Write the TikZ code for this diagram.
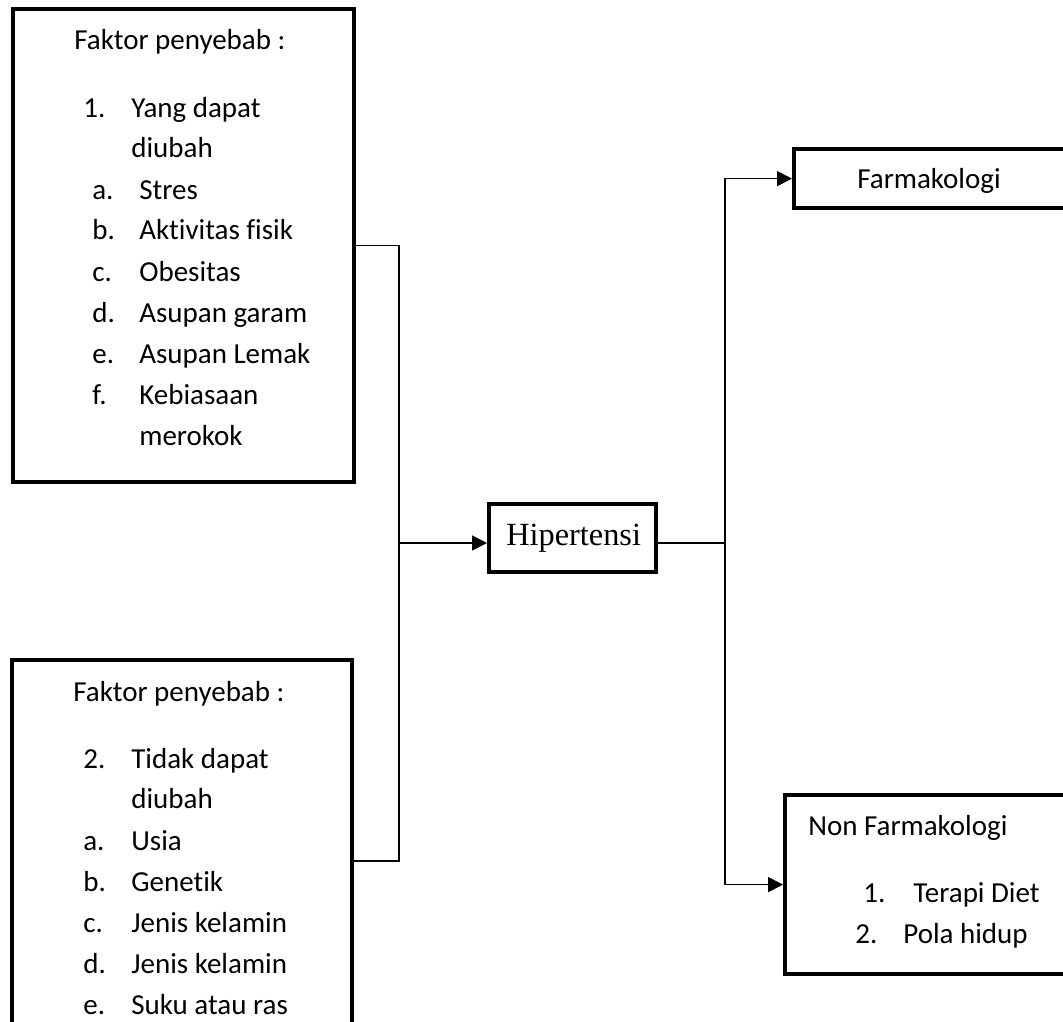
\documentclass[tikz,border=0pt]{standalone}
\usepackage{fontspec}
\setmainfont{Carlito}[Ligatures=NoCommon]
\newfontfamily\timesfont{Liberation Serif}
\usetikzlibrary{arrows.meta}

\tikzset{
  box/.style={draw, line width=0.085cm, inner sep=0pt, anchor=north west},
  txt/.style={anchor=base west, inner sep=0pt, font=\fontsize{16.5}{20}\selectfont},
  link/.style={line width=0.035cm},
  arrowlink/.style={link, -{Triangle[length=0.3cm, width=0.3cm]}}
}

\begin{document}
\begin{tikzpicture}[x=0.02cm, y=-0.02cm]
  %%%%% START %%%%%
  \clip (0,0) rectangle (1063,1022);

  % boxes
  \node[box, minimum width=6.82cm, minimum height=9.46cm] (faktorA) at (11,7) {};
  \node[box, minimum width=6.80cm, minimum height=8.04cm] (faktorB) at (10,658) {};
  \node[box, minimum width=3.34cm, minimum height=1.36cm] (hiper) at (487,502) {};
  \node[box, minimum width=5.44cm, minimum height=1.18cm] (farma) at (792,147) {};
  \node[box, minimum width=5.74cm, minimum height=3.58cm] (nonfarma) at (783,793) {};

  % texts of the first box
  \node[txt] (titleA) at (74,49) {Faktor penyebab :};
  \node[txt] (numA) at (83,117) {1.};
  \node[txt] (headA) at (131,117) {Yang dapat};
  \node[txt] (headA2) at (131,157) {diubah};
  \node[txt] (labAa) at (92,199) {a.};
  \node[txt] (itemAa) at (139,199) {Stres};
  \node[txt] (labAb) at (92,239) {b.};
  \node[txt] (itemAb) at (139,239) {Aktivitas fisik};
  \node[txt] (labAc) at (92,281) {c.};
  \node[txt] (itemAc) at (139,281) {Obesitas};
  \node[txt] (labAd) at (92,322) {d.};
  \node[txt] (itemAd) at (139,322) {Asupan garam};
  \node[txt] (labAe) at (92,363) {e.};
  \node[txt] (itemAe) at (139,363) {Asupan Lemak};
  \node[txt] (labAf) at (92,404) {f.};
  \node[txt] (itemAf) at (139,404) {Kebiasaan};
  \node[txt] (itemAf2) at (139,445) {merokok};

  % texts of the second box
  \node[txt] (titleB) at (73,701) {Faktor penyebab :};
  \node[txt] (numB) at (83,768) {2.};
  \node[txt] (headB) at (131,768) {Tidak dapat};
  \node[txt] (headB2) at (131,808) {diubah};
  \node[txt] (labBa) at (83,850) {a.};
  \node[txt] (itemBa) at (131,850) {Usia};
  \node[txt] (labBb) at (83,891) {b.};
  \node[txt] (itemBb) at (131,891) {Genetik};
  \node[txt] (labBc) at (83,932) {c.};
  \node[txt] (itemBc) at (131,932) {Jenis kelamin};
  \node[txt] (labBd) at (83,973) {d.};
  \node[txt] (itemBd) at (131,973) {Jenis kelamin};
  \node[txt] (labBe) at (83,1014) {e.};
  \node[txt] (itemBe) at (131,1014) {Suku atau ras};

  % middle and right texts
  \node[txt, font=\timesfont\fontsize{18.4}{22}\selectfont] (hiperlbl) at (506,545) {Hipertensi};
  \node[txt] (farmalbl) at (857,188) {Farmakologi};
  \node[txt] (nonlbl) at (808,835) {Non Farmakologi};
  \node[txt] (numN1) at (863,902) {1.};
  \node[txt] (itemN1) at (913,902) {Terapi Diet};
  \node[txt] (numN2) at (855,943) {2.};
  \node[txt] (itemN2) at (903,943) {Pola hidup};

  % connectors
  \coordinate (jointL) at (399,543);
  \coordinate (jointR) at (725,543);
  \draw[link] (faktorA.east) -| (jointL) |- (faktorB.east);
  \draw[arrowlink] (jointL) -- (jointL -| hiper.west);
  \draw[link] (hiper.east |- jointR) -- (jointR);
  \draw[arrowlink] (jointR) |- (farma.west);
  \draw[arrowlink] (jointR) |- (nonfarma.west);

  %%%%% END %%%%%
\end{tikzpicture}
\end{document}
